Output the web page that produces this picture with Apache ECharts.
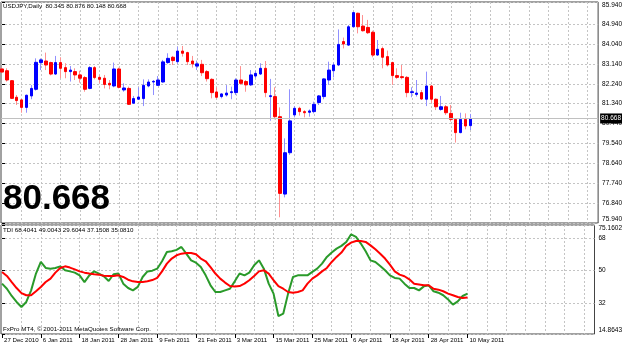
<!DOCTYPE html>
<html>
<head>
<meta charset="utf-8"/>
<title>USDJPY,Daily</title>
<script src="https://cdn.jsdelivr.net/npm/echarts@6/dist/echarts.min.js"></script>
<style>
    html, body { margin: 0; padding: 0; background: #fff; }
    #main { width: 625px; height: 345px; }
</style>
</head>
<body>
<div id="main"></div>
<script>
// daily bars, 27 Dec 2010 .. 10 May 2011
var opens = [82.91,82.83,82.38,81.63,81.51,81.17,81.69,81.99,83.20,83.27,
    83.20,82.68,83.20,82.97,82.79,82.79,82.64,82.52,82.03,82.97,
    82.53,82.49,82.26,82.14,82.91,81.96,82.03,81.36,81.54,81.57,
    82.14,82.32,82.17,82.32,83.20,83.44,83.24,83.72,83.65,83.27,
    83.04,83.12,82.79,82.44,81.87,81.66,81.73,81.84,81.84,82.41,
    82.34,82.19,82.59,82.68,82.94,81.66,81.66,80.75,77.25,79.12,
    80.83,81.13,80.98,80.95,80.98,81.39,81.66,82.41,82.83,83.09,
    84.15,83.99,84.82,85.43,84.85,84.79,84.57,83.54,83.83,83.47,
    83.20,82.61,82.56,82.53,81.84,81.76,81.84,81.54,82.14,81.54,
    81.08,81.20,80.90,80.63,80.03,80.63,80.345];
var highs = [82.97,82.94,82.41,81.73,81.54,81.75,82.18,83.39,83.39,83.65,
    83.24,83.50,83.44,83.17,83.04,82.94,82.83,82.59,83.04,83.04,
    82.64,82.64,82.41,83.20,82.97,82.26,82.11,81.69,82.08,82.44,
    82.44,82.41,82.59,83.32,83.62,83.50,83.92,83.95,83.69,83.50,
    83.29,83.32,82.86,82.49,82.08,81.81,82.18,82.11,82.49,83.04,
    82.41,82.86,82.83,83.17,83.27,82.46,82.08,81.17,79.77,81.99,
    81.23,81.20,81.05,81.08,81.43,81.73,82.49,83.24,83.20,84.70,
    84.33,84.90,85.50,85.46,85.35,85.13,84.64,84.22,83.92,83.74,
    83.24,82.94,83.09,82.59,82.08,82.41,81.96,82.79,82.19,81.58,
    81.69,81.28,81.28,80.68,80.93,80.90,80.876];
var lows = [82.74,82.34,81.55,81.28,80.93,80.93,81.54,81.93,82.86,82.86,
    82.62,82.64,82.49,82.49,82.34,82.41,82.29,81.88,81.99,82.44,
    82.26,82.03,81.99,82.08,82.03,81.88,81.28,81.33,81.51,81.23,
    82.08,81.73,82.14,82.29,83.14,83.09,83.14,83.47,83.09,82.97,
    82.86,82.59,82.34,81.58,81.58,81.58,81.66,81.54,81.73,82.19,
    81.88,82.14,82.49,82.64,81.63,80.57,80.63,76.20,77.10,79.02,
    80.72,80.80,80.72,80.75,80.90,81.28,81.54,82.19,82.53,83.04,
    83.84,83.95,84.79,84.52,84.60,84.49,83.44,83.50,82.94,83.02,
    82.19,82.46,82.44,81.63,81.63,81.66,81.51,81.23,81.36,81.05,
    81.02,80.83,80.53,79.58,80.00,80.18,80.148];
var closes = [82.77,82.41,81.58,81.48,81.17,81.72,82.03,83.21,83.32,83.09,
    82.68,83.20,82.94,82.79,82.86,82.64,82.49,81.99,82.97,82.52,
    82.44,82.21,82.19,82.91,82.08,82.05,81.31,81.57,81.64,82.17,
    82.32,82.35,82.41,83.23,83.39,83.29,83.72,83.62,83.24,83.14,
    83.14,82.74,82.47,81.84,81.63,81.78,81.82,81.88,82.41,82.26,
    82.19,82.64,82.71,82.94,81.84,81.70,80.75,77.28,79.12,80.56,
    81.13,80.98,80.93,81.01,81.31,81.69,82.46,82.86,83.09,84.02,
    84.04,84.82,85.46,84.82,84.64,84.55,83.54,83.80,83.44,83.09,
    82.61,82.53,82.52,81.84,81.88,81.82,81.55,82.14,81.54,81.20,
    81.20,80.93,80.63,80.03,80.63,80.33,80.668];

// TDI: RSI price line (green) and trade signal line (red)
var tdiGreen = [42.7,39.9,35.9,32.6,29.8,32.6,39.0,48.3,54.7,51.4,
    51.0,51.4,52.3,50.1,49.5,48.8,47.3,43.6,47.3,49.5,
    48.3,46.8,44.2,47.9,48.3,42.7,40.3,39.0,40.9,46.4,
    49.5,49.9,51.0,55.1,60.2,60.6,61.4,63.0,59.3,55.6,
    54.3,51.9,47.3,41.8,38.1,38.1,39.0,39.9,44.0,48.3,
    47.3,48.8,52.9,55.6,51.0,42.7,37.2,24.8,26.1,37.2,
    46.4,47.3,47.3,47.3,49.2,51.0,53.8,57.5,59.9,62.1,
    63.6,65.8,70.0,68.6,64.9,60.6,55.6,54.7,52.5,50.1,
    47.3,45.9,45.5,42.7,40.3,40.3,39.0,41.2,41.8,38.5,
    37.7,36.3,34.0,31.1,32.9,35.9,37.15];
var tdiRed = [49.2,47.0,43.6,40.3,37.5,36.3,36.3,38.5,40.9,43.6,
    45.5,48.8,51.4,52.3,51.6,50.6,49.5,48.8,48.3,47.9,
    47.7,47.1,47.0,47.0,47.3,46.4,44.9,44.0,43.6,43.6,
    44.0,44.7,45.9,49.5,53.8,56.6,58.4,59.3,59.7,59.7,
    59.0,56.6,55.1,51.9,48.3,45.5,43.3,41.4,41.2,41.4,
    42.7,44.6,47.0,49.5,50.1,48.3,44.6,41.4,39.9,38.1,
    37.7,38.1,39.0,42.7,45.5,47.3,49.5,51.4,54.7,57.5,
    59.9,63.6,65.4,66.3,66.3,65.8,63.9,61.7,59.3,56.6,
    53.2,49.5,47.7,46.8,45.1,42.7,42.3,41.8,41.8,39.9,
    39.4,38.5,37.2,36.3,35.3,34.8,35.08];

var dateBars = [0, 8, 16, 24, 32, 40, 48, 56, 64, 72, 80, 88, 96];
var dateLabels = ['27 Dec 2010', '6 Jan 2011', '18 Jan 2011', '28 Jan 2011', '9 Feb 2011',
    '21 Feb 2011', '3 Mar 2011', '15 Mar 2011', '25 Mar 2011', '6 Apr 2011',
    '18 Apr 2011', '28 Apr 2011', '10 May 2011'];
var gridBars = [4, 8, 12, 16, 20, 24, 28, 32, 36, 40, 44, 48, 52, 56, 60,
    64, 68, 72, 76, 80, 84, 88, 92, 96, 100, 104, 108, 112, 116, 120];
var priceTicks = [75.94, 76.84, 77.74, 78.64, 79.54, 80.44, 81.34, 82.24, 83.14, 84.04, 84.94, 85.94];
var tdiTicks = [14.8643, 32, 50, 68, 75.1602];
var lastPrice = 80.668;

var headerText = 'USDJPY,Daily  80.345 80.876 80.148 80.668';
var tdiText = 'TDI 68.4041 49.0043 29.6044 37.1508 35.0810';
var copyText = 'FxPro MT4, \u00a9 2001-2011 MetaQuotes Software Corp.';

var wickData = opens.map(function (o, i) {
    return [i, o, closes[i], lows[i], highs[i]];
});
var bodyData = opens.map(function (o, i) {
    return [i, o, closes[i], Math.min(o, closes[i]), Math.max(o, closes[i])];
});
var greenData = tdiGreen.map(function (v, i) { return [i, v]; });
var redData = tdiRed.map(function (v, i) { return [i, v]; });

var FONT = 'Liberation Sans';
var smallText = { fontFamily: FONT, fontSize: 6.2, fontWeight: 'normal', color: '#000' };
var gridLine = { show: true, lineStyle: { color: '#c4c4c4', type: [2, 2], width: 1 } };
var X_MIN = -0.214, X_MAX = 122.2;

var myChart = echarts.init(document.getElementById('main'), null, { renderer: 'canvas' });
var option = {
    animation: false,
    backgroundColor: '#fff',
    title: [
        { text: headerText, left: 3, top: 3, padding: 0, textStyle: smallText },
        { text: tdiText, left: 3, top: 227, padding: 0, textStyle: smallText },
        { text: copyText, left: 3, top: 326, padding: 0, textStyle: smallText },
        { text: String(lastPrice), left: 3, top: 182, padding: 0,
          textStyle: { fontFamily: FONT, fontSize: 35, fontWeight: 'bold', color: '#000' } }
    ],
    grid: [
        { left: 1, top: 2, width: 601, height: 221, show: true, borderColor: '#444', borderWidth: 1 },
        { left: 1, top: 225, width: 601, height: 109, show: true, borderColor: '#444', borderWidth: 1 }
    ],
    xAxis: [
        {
            type: 'value', gridIndex: 0, min: X_MIN, max: X_MAX,
            axisLine: { show: false },
            axisTick: { show: false, customValues: gridBars },
            axisLabel: { show: false },
            splitLine: gridLine
        },
        {
            type: 'value', gridIndex: 1, min: X_MIN, max: X_MAX, position: 'bottom',
            axisLine: { show: false },
            axisTick: { show: true, customValues: dateBars, length: 4, lineStyle: { color: '#000' } },
            axisLabel: {
                customValues: dateBars, align: 'left', margin: 3, padding: [0, 0, 0, 2],
                fontFamily: FONT, fontSize: 6.1, color: '#000',
                formatter: function (v) { return dateLabels[dateBars.indexOf(v)]; }
            },
            splitLine: { show: false }
        },
        {
            type: 'value', gridIndex: 1, min: X_MIN, max: X_MAX, position: 'top',
            axisLine: { show: false },
            axisTick: { show: false, customValues: gridBars },
            axisLabel: { show: false },
            splitLine: gridLine
        }
    ],
    yAxis: [
        {
            type: 'value', gridIndex: 0, position: 'right',
            min: priceTicks[0], max: priceTicks[priceTicks.length - 1],
            axisLine: { show: false },
            axisTick: { show: true, customValues: priceTicks, length: 3, lineStyle: { color: '#000' } },
            axisLabel: {
                customValues: priceTicks, margin: 4,
                fontFamily: FONT, fontSize: 6.5, color: '#000',
                verticalAlignMinLabel: 'bottom', verticalAlignMaxLabel: 'top',
                formatter: function (v) { return v.toFixed(3); }
            },
            splitLine: gridLine
        },
        {
            type: 'value', gridIndex: 1, position: 'right',
            min: tdiTicks[0], max: tdiTicks[tdiTicks.length - 1],
            axisLine: { show: false },
            axisTick: { show: true, customValues: tdiTicks, length: 3, lineStyle: { color: '#000' } },
            axisLabel: {
                customValues: tdiTicks, margin: 4,
                fontFamily: FONT, fontSize: 6.5, color: '#000',
                verticalAlignMinLabel: 'bottom', verticalAlignMaxLabel: 'top',
                formatter: function (v) { return v % 1 === 0 ? String(v) : v.toFixed(4); }
            },
            splitLine: gridLine
        }
    ],
    series: [
        {
            name: 'wicks', type: 'candlestick', xAxisIndex: 0, yAxisIndex: 0,
            barWidth: 1, clip: false,
            itemStyle: { color: '#9090ff', color0: '#ff9090', borderColor: '#9090ff', borderColor0: '#ff9090', borderWidth: 1 },
            data: wickData
        },
        {
            name: 'USDJPY', type: 'candlestick', xAxisIndex: 0, yAxisIndex: 0,
            barWidth: 3, clip: false,
            itemStyle: { color: '#0000ff', color0: '#ff0000', borderColor: '#0000ff', borderColor0: '#ff0000', borderWidth: 1 },
            data: bodyData,
            markLine: {
                silent: true, symbol: 'none', animation: false,
                lineStyle: { color: '#c0c0c0', type: 'solid', width: 1 },
                label: {
                    position: 'end', distance: 2, formatter: String(lastPrice),
                    fontFamily: FONT, fontSize: 6.5, color: '#fff',
                    backgroundColor: '#000', padding: [2, 1, 1, 1]
                },
                data: [{ yAxis: lastPrice }]
            }
        },
        {
            name: 'RSI', type: 'line', xAxisIndex: 1, yAxisIndex: 1,
            symbol: 'none', lineStyle: { color: '#2a9a2a', width: 2 },
            data: greenData
        },
        {
            name: 'Signal', type: 'line', xAxisIndex: 1, yAxisIndex: 1,
            symbol: 'none', lineStyle: { color: '#ff0000', width: 2 },
            data: redData
        }
    ]
};
myChart.setOption(option);
</script>
</body>
</html>
